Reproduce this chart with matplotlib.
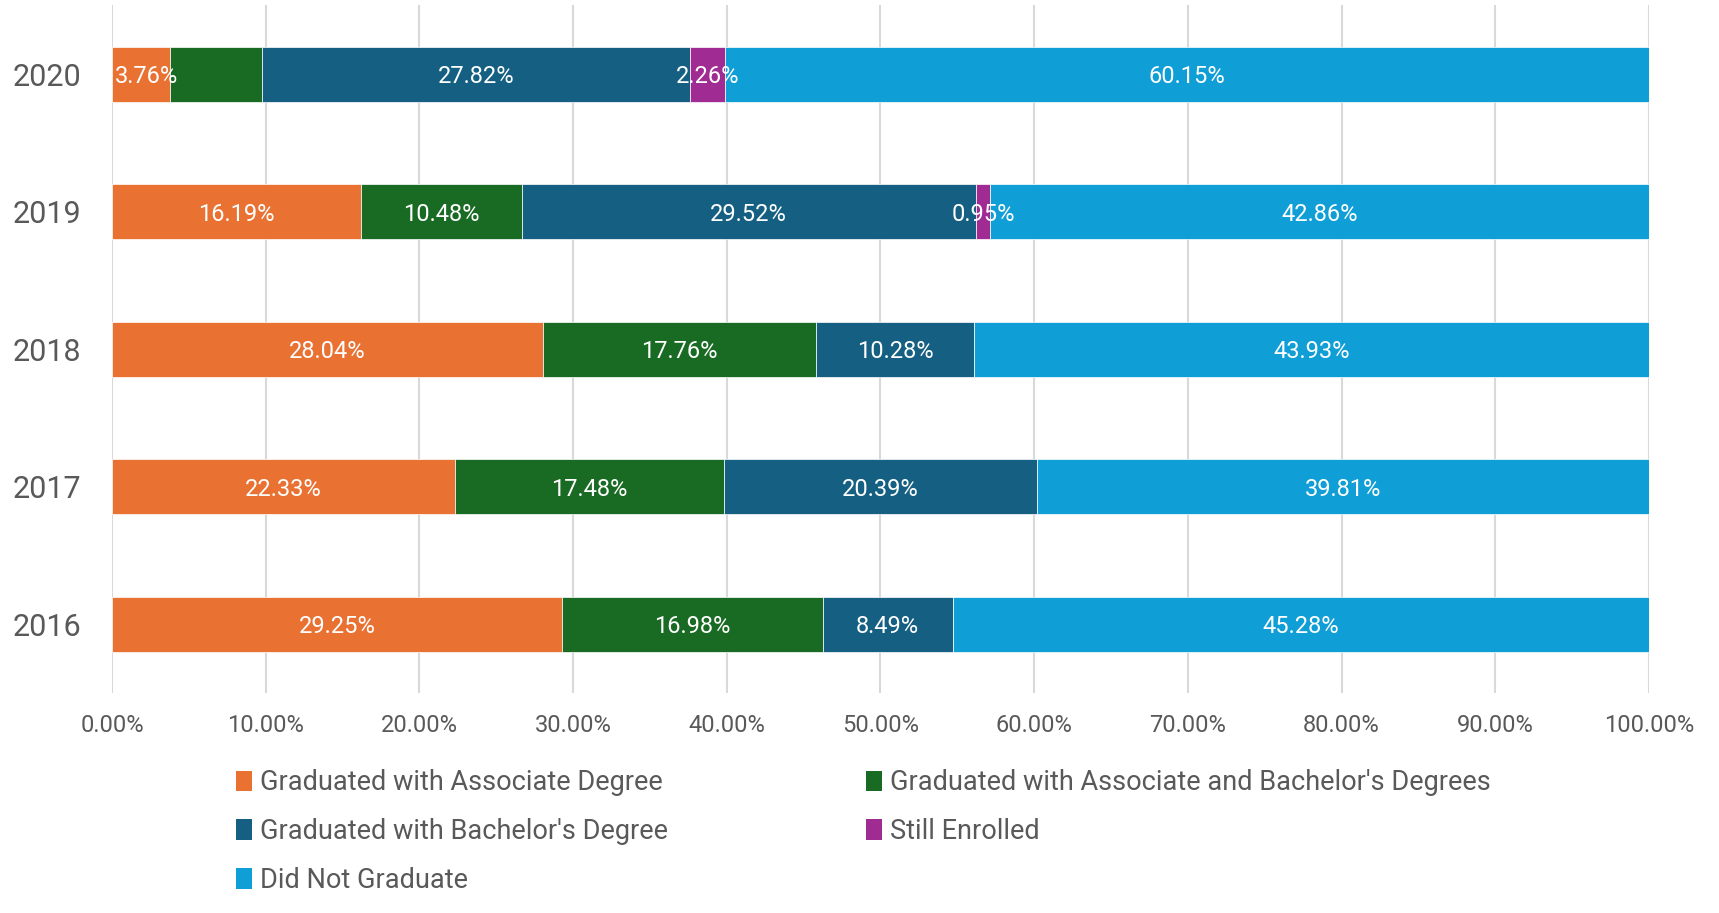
import numpy as np
import matplotlib.pyplot as plt
from matplotlib.patches import Patch

plt.rcParams['font.family'] = ['Roboto', 'DejaVu Sans']

years = ['2016', '2017', '2018', '2019', '2020']
series = ['Graduated with Associate Degree',
          "Graduated with Associate and Bachelor's Degrees",
          "Graduated with Bachelor's Degree",
          'Still Enrolled',
          'Did Not Graduate']
associate = [29.25, 22.33, 28.04, 16.19, 3.76]
assoc_bach = [16.98, 17.48, 17.76, 10.48, 6.02]
bachelor = [8.49, 20.39, 10.28, 29.52, 27.82]
enrolled = [0.0, 0.0, 0.0, 0.95, 2.26]
not_grad = [45.28, 39.81, 43.93, 42.86, 60.15]
colors = ['#E97132', '#196B24', '#156082', '#A02B93', '#0F9ED5']
# labels that the original chart does not show (series index, year)
hidden = [(1, '2020')]

data = [associate, assoc_bach, bachelor, enrolled, not_grad]
gray = '#595959'

fig = plt.figure(figsize=(17.19, 9.13), dpi=100)
ax = fig.add_axes([0.0652, 0.241, 0.894, 0.753])

y = np.arange(len(years))
left = np.zeros(len(years))
for i, (vals, c) in enumerate(zip(data, colors)):
    vals = np.array(vals)
    ax.barh(y, vals, left=left, height=0.4, color=c, edgecolor='white',
            linewidth=0.5, zorder=3)
    for j, v in enumerate(vals):
        if v > 0 and (i, years[j]) not in hidden:
            x, ha = left[j] + v / 2, 'center'
            if x < 2.5:  # keep label inside the plot area, like Excel does
                x, ha = 0.2, 'left'
            ax.text(x, y[j], f'{v:.2f}%', ha=ha, va='center_baseline',
                    color='white', fontsize=17, zorder=4)
    left += vals

ax.set_xlim(0, 100)
ax.set_ylim(-0.5, 4.5)
ax.set_yticks(y)
ax.set_yticklabels(years, fontsize=22, color=gray)
ax.set_xticks(np.arange(0, 101, 10))
ax.set_xticklabels([f'{t:.2f}%' for t in np.arange(0, 101, 10)], fontsize=17, color=gray)
ax.tick_params(length=0)
ax.tick_params(axis='x', pad=15.5)
ax.tick_params(axis='y', pad=22)
ax.grid(axis='x', color='#d9d9d9', linewidth=1.5, zorder=0)
for s in ax.spines.values():
    s.set_visible(False)

handles = [Patch(facecolor=c, label=s) for s, c in zip(series, colors)]
order = [0, 2, 4, 1, 3]
fig.legend([handles[k] for k in order], [series[k] for k in order], ncol=2,
           loc='upper left', bbox_to_anchor=(0.123, 0.184), frameon=False,
           fontsize=19.5, labelcolor=gray, handlelength=0.6, handleheight=0.8,
           handletextpad=0.3, columnspacing=7.3, labelspacing=0.8)

fig.savefig('out.png', dpi=100)
